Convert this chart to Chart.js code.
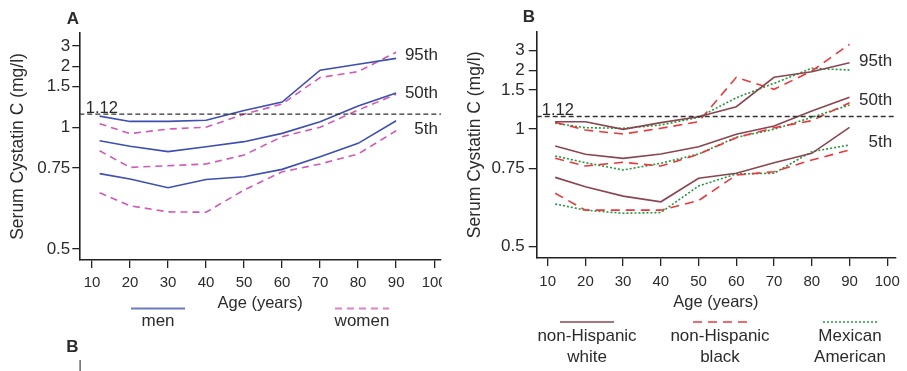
<!DOCTYPE html>
<html>
<head>
<meta charset="utf-8">
<script src="https://cdn.jsdelivr.net/npm/chart.js@4.4.0/dist/chart.umd.min.js"></script>
<style>
  html, body { margin: 0; padding: 0; background: #fff; }
  #wrapA { position: absolute; left: 0; top: 0; width: 442px; height: 371px; overflow: hidden; }
  #wrapB { position: absolute; left: 453px; top: 0; width: 454px; height: 371px; }
</style>
</head>
<body>
<div id="wrapA"><canvas id="chartA" width="453" height="371"></canvas></div>
<div id="wrapB"><canvas id="chartB" width="454" height="371"></canvas></div>
<script>
// ages where the percentile curves have vertices
const ages = [12, 20, 30, 40, 50, 60, 70, 80, 90];
const xTicks = [10, 20, 30, 40, 50, 60, 70, 80, 90, 100];
const yTicks = [0.5, 0.75, 1, 1.5, 2, 3];
const yTickLabels = ['0.5', '0.75', '1', '1.5', '2', '3'];
const refValue = 1.12;
const pctLabels = ['95th', '50th', '5th'];

// panel A: men / women
const menP95   = [1.10, 1.05, 1.05, 1.06, 1.16, 1.26, 1.88, 2.07, 2.30];
const menP50   = [0.90, 0.865, 0.833, 0.862, 0.894, 0.952, 1.047, 1.21, 1.39];
const menP5    = [0.724, 0.702, 0.668, 0.70, 0.711, 0.743, 0.805, 0.883, 1.056];
const womenP95 = [1.03, 0.95, 0.985, 1.00, 1.12, 1.235, 1.69, 1.84, 2.60];
const womenP50 = [0.838, 0.752, 0.76, 0.768, 0.814, 0.928, 1.00, 1.164, 1.37];
const womenP5  = [0.65, 0.608, 0.59, 0.589, 0.66, 0.732, 0.768, 0.82, 0.972];
const legendA  = [['men'], ['women']];

// panel B: race / ethnicity
const whiteP95 = [1.067, 1.067, 0.998, 1.058, 1.118, 1.235, 1.787, 1.954, 2.297];
const whiteP50 = [0.874, 0.824, 0.801, 0.825, 0.87, 0.958, 1.027, 1.182, 1.371];
const whiteP5  = [0.709, 0.671, 0.637, 0.618, 0.705, 0.727, 0.778, 0.829, 1.015];
const blackP95 = [1.061, 0.992, 0.96, 1.007, 1.067, 1.787, 1.511, 1.976, 3.585];
const blackP50 = [0.801, 0.761, 0.78, 0.761, 0.824, 0.932, 1.012, 1.077, 1.29];
const blackP5  = [0.647, 0.592, 0.592, 0.592, 0.622, 0.719, 0.734, 0.792, 0.849];
const mexP95   = [1.052, 1.012, 1.007, 1.036, 1.111, 1.364, 1.638, 2.07, 2.01];
const mexP50   = [0.814, 0.778, 0.742, 0.775, 0.825, 0.935, 0.998, 1.111, 1.258];
const mexP5    = [0.611, 0.592, 0.583, 0.585, 0.674, 0.724, 0.727, 0.839, 0.881];
const legendB  = [['non-Hispanic', 'white'], ['non-Hispanic', 'black'], ['Mexican', 'American']];

const FONT = '"Liberation Sans", Arial, sans-serif';
const TXT = '#2b2b2b';

// y axis is reciprocal: plot 1/value on a reversed linear scale
function series(vals) {
  return vals.map((v, i) => ({ x: ages[i], y: 1 / v }));
}

function curve(vals, pct, group, style) {
  return Object.assign({
    data: series(vals), pct: pct, group: group,
    borderWidth: 1.6, pointRadius: 0, tension: 0, fill: false
  }, style);
}

function refLine(xmin, xmax) {
  return {
    data: [{ x: xmin, y: 1 / refValue }, { x: xmax, y: 1 / refValue }],
    borderColor: '#333', borderWidth: 1.3, borderDash: [5, 3],
    pointRadius: 0, fill: false
  };
}

// texts drawn inside the plots: 1.12, percentile names, legend, panel letter
const annotations = {
  id: 'annotations',
  afterDatasetsDraw(chart, args, o) {
    const { ctx, chartArea, scales: { x, y } } = chart;
    ctx.save();
    ctx.fillStyle = TXT;

    const ry = y.getPixelForValue(1 / refValue);
    ctx.font = '16.5px ' + FONT;
    ctx.textAlign = 'left';
    ctx.textBaseline = 'alphabetic';
    ctx.fillText(refValue.toFixed(2), chartArea.left + o.refDx, ry - 1.5);

    // percentile labels sit near the mean height of the curves' last points
    ctx.font = '17px ' + FONT;
    ctx.textAlign = 'right';
    ctx.textBaseline = 'middle';
    pctLabels.forEach((lab, p) => {
      const ys = [];
      chart.data.datasets.forEach((ds, i) => {
        if (ds.pct === p) {
          const pts = chart.getDatasetMeta(i).data;
          ys.push(pts[pts.length - 1].y);
        }
      });
      const my = ys.reduce((a, b) => a + b, 0) / ys.length;
      ctx.fillText(lab, chartArea.right - 3, my + o.pctDy[p]);
    });

    // legend
    o.legend.forEach((lines, g) => {
      const ds = chart.data.datasets.find(d => d.group === g);
      const cx = o.legendX[g];
      ctx.save();
      ctx.strokeStyle = ds.borderColor;
      ctx.globalAlpha = 0.75;
      ctx.lineWidth = 2;
      ctx.setLineDash(ds.borderDash || []);
      ctx.beginPath();
      ctx.moveTo(cx - 27, o.legendLineY);
      ctx.lineTo(cx + 27, o.legendLineY);
      ctx.stroke();
      ctx.restore();
      ctx.font = '17px ' + FONT;
      ctx.textAlign = 'center';
      ctx.textBaseline = 'middle';
      lines.forEach((t, k) => ctx.fillText(t, cx, o.legendTextY + k * 21));
    });

    ctx.font = 'bold 17px ' + FONT;
    ctx.textAlign = 'center';
    ctx.textBaseline = 'middle';
    ctx.fillText(o.letter, o.letterX, o.letterY);
    if (o.nextLetter) {
      ctx.fillText(o.nextLetter, o.letterX - 0.5, 347);
      ctx.fillStyle = '#444';
      ctx.fillRect(79.5, 360, 1.2, 11);
    }
    ctx.restore();
  }
};

function makeChart(id, datasets, cfg) {
  return new Chart(document.getElementById(id), {
    type: 'line',
    data: { datasets: datasets },
    options: {
      responsive: false,
      animation: false,
      events: [],
      layout: { padding: cfg.padding },
      plugins: { legend: { display: false }, tooltip: { enabled: false }, annotations: cfg.ann },
      scales: {
        x: {
          type: 'linear', min: cfg.xmin, max: cfg.xmax,
          afterBuildTicks: s => { s.ticks = xTicks.map(v => ({ value: v })); },
          afterFit: s => { s.height = 55; },
          ticks: { autoSkip: false, maxRotation: 0, padding: cfg.xPad, color: TXT,
                   font: { family: FONT, size: 15 }, callback: v => String(v) },
          grid: { drawOnChartArea: false, drawTicks: true, tickLength: 8, color: '#222', lineWidth: 1.3 },
          border: { display: true, color: '#222', width: 1.6 },
          title: { display: true, text: 'Age (years)', color: TXT,
                   font: { family: FONT, size: 16.5 }, padding: { top: 0, bottom: cfg.xTitlePad } }
        },
        y: {
          type: 'linear', reverse: true, min: cfg.rmin, max: cfg.rmax,
          afterBuildTicks: s => { s.ticks = yTicks.map(v => ({ value: 1 / v })); },
          afterFit: s => { s.width = cfg.yWidth; },
          ticks: { autoSkip: false, padding: cfg.yPad, color: TXT,
                   font: { family: FONT, size: 17 }, callback: (v, i) => yTickLabels[i] },
          grid: { drawOnChartArea: false, drawTicks: true, tickLength: cfg.yTick, color: '#222', lineWidth: 1.3 },
          border: { display: true, color: '#222', width: 1.6 },
          title: { display: true, text: 'Serum Cystatin C (mg/l)', color: TXT,
                   font: { family: FONT, size: 17.5 }, padding: { top: cfg.yTitlePad, bottom: 0 } }
        }
      }
    },
    plugins: [annotations]
  });
}

const MEN = { borderColor: '#3d4fb0' };
const WOMEN = { borderColor: '#cf58b8', borderDash: [7, 5] };

makeChart('chartA', [
  refLine(6.66, 101.8),
  curve(menP95, 0, 0, MEN), curve(menP50, 1, 0, MEN), curve(menP5, 2, 0, MEN),
  curve(womenP95, 0, 1, WOMEN), curve(womenP50, 1, 1, WOMEN), curve(womenP5, 2, 1, WOMEN)
], {
  padding: { top: 33, right: 12, bottom: 56, left: 0 },
  xmin: 6.66, xmax: 101.8, rmin: 0.2266, rmax: 2.09,
  yWidth: 79.3, yPad: 2, yTick: 7, yTitlePad: 7.5, xPad: 6, xTitlePad: 1.8,
  ann: { refDx: 6.5, pctDy: [0, 0, 4], legend: legendA, legendX: [158, 362], legendLineY: 308.5,
         legendTextY: 321, letter: 'A', letterX: 73, letterY: 19.5, nextLetter: 'B' }
});

const WHITE = { borderColor: '#8a4650' };
const BLACK = { borderColor: '#e8383c', borderDash: [9, 6] };
const MEX = { borderColor: '#23963c', borderDash: [2, 2] };

makeChart('chartB', [
  refLine(7.1, 102.1),
  curve(whiteP95, 0, 0, WHITE), curve(whiteP50, 1, 0, WHITE), curve(whiteP5, 2, 0, WHITE),
  curve(blackP95, 0, 1, BLACK), curve(blackP50, 1, 1, BLACK), curve(blackP5, 2, 1, BLACK),
  curve(mexP95, 0, 2, MEX), curve(mexP50, 1, 2, MEX), curve(mexP5, 2, 2, MEX)
], {
  padding: { top: 31.7, right: 10.3, bottom: 58, left: 0 },
  xmin: 7.1, xmax: 102.1, rmin: 0.1718, rmax: 2.096,
  yWidth: 83.7, yPad: 4, yTick: 8, yTitlePad: 11.3, xPad: 7, xTitlePad: 0.8,
  ann: { refDx: 5, pctDy: [2, -1, 2], legend: legendB, legendX: [134, 267, 397], legendLineY: 322,
         legendTextY: 336, letter: 'B', letterX: 76, letterY: 17 }
});
</script>
</body>
</html>
